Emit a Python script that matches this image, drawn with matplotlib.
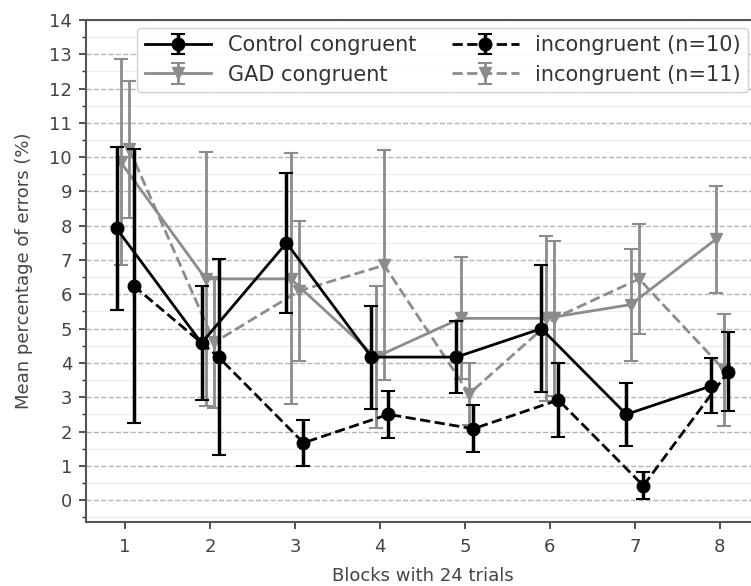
import numpy as np
import matplotlib
matplotlib.use("Agg")
import matplotlib.pyplot as plt
from matplotlib.ticker import MultipleLocator

# block numbers
blocks = np.arange(1, 9)

# mean error rates (%)
ctrl_cong = [7.92, 4.58, 7.50, 4.17, 4.17, 5.00, 2.50, 3.33]
ctrl_cong_err = [2.38, 1.67, 2.04, 1.50, 1.05, 1.85, 0.92, 0.80]
ctrl_incong = [6.25, 4.17, 1.67, 2.50, 2.08, 2.92, 0.42, 3.75]
ctrl_incong_err = [4.00, 2.85, 0.68, 0.68, 0.68, 1.07, 0.40, 1.14]
gad_cong = [9.85, 6.45, 6.45, 4.17, 5.30, 5.30, 5.70, 7.60]
gad_cong_err = [3.00, 3.70, 3.66, 2.06, 1.78, 2.40, 1.63, 1.55]
gad_incong = [10.23, 4.60, 6.10, 6.85, 3.10, 5.30, 6.45, 3.80]
gad_incong_err = [2.00, 1.90, 2.04, 3.35, 0.90, 2.25, 1.60, 1.63]

gray = "#8c8c8c"

fig = plt.figure(figsize=(7.51, 5.86), dpi=100)
ax = fig.add_axes([0.1145, 0.1097, 0.896, 0.8562])

# grid first
ax.yaxis.set_major_locator(MultipleLocator(1))
ax.yaxis.set_minor_locator(MultipleLocator(0.5))
ax.grid(True, which="major", axis="y", linestyle="--", color="#b5b5b5", linewidth=1.0)
ax.grid(True, which="minor", axis="y", linestyle="-", color="#ececec", linewidth=0.8)
ax.set_axisbelow(True)

h_gc = ax.errorbar(blocks - 0.05, gad_cong, yerr=gad_cong_err, color=gray, marker="v",
                   markersize=9, linewidth=2, elinewidth=2, capsize=5, capthick=1.5,
                   linestyle="-", label="GAD congruent", zorder=3)
h_gi = ax.errorbar(blocks + 0.05, gad_incong, yerr=gad_incong_err, color=gray, marker="v",
                   markersize=9, linewidth=2, elinewidth=2, capsize=5, capthick=1.5,
                   linestyle="--", label="incongruent (n=11)", zorder=3)
h_cc = ax.errorbar(blocks - 0.1, ctrl_cong, yerr=ctrl_cong_err, color="black", marker="o",
                   markersize=9, linewidth=2, elinewidth=2.5, capsize=5, capthick=1.5,
                   linestyle="-", label="Control congruent", zorder=4)
h_ci = ax.errorbar(blocks + 0.1, ctrl_incong, yerr=ctrl_incong_err, color="black", marker="o",
                   markersize=9, linewidth=2, elinewidth=2.5, capsize=5, capthick=1.5,
                   linestyle="--", label="incongruent (n=10)", zorder=4)

ax.set_xlim(0.54, 8.46)
ax.set_ylim(-0.63, 14)
ax.set_xticks(blocks)
ax.tick_params(axis="both", which="major", labelsize=13, length=5, width=1.2, colors="#333333")
ax.tick_params(axis="x", which="major", pad=7)
ax.tick_params(axis="y", which="major", pad=5)
ax.tick_params(axis="y", which="minor", length=3, width=1.0, colors="#333333")
for lab in ax.get_xticklabels() + ax.get_yticklabels():
    lab.set_color("#444444")
for sp in ax.spines.values():
    sp.set_color("#555555")
    sp.set_linewidth(1.5)

ax.set_xlabel("Blocks with 24 trials", fontsize=13, color="#444444", labelpad=8)
ax.set_ylabel("Mean percentage of errors (%)", fontsize=13, color="#444444", labelpad=12)

leg = ax.legend(handles=[h_cc, h_gc, h_ci, h_gi], ncol=2, fontsize=15,
                loc="upper right", bbox_to_anchor=(0.984, 0.984), borderaxespad=0,
                handlelength=3.2, columnspacing=1.7, labelspacing=0.45,
                borderpad=0.35, framealpha=0.9, edgecolor="#cccccc")
for t in leg.get_texts():
    t.set_color("#333333")

fig.savefig("out.png", dpi=100)
